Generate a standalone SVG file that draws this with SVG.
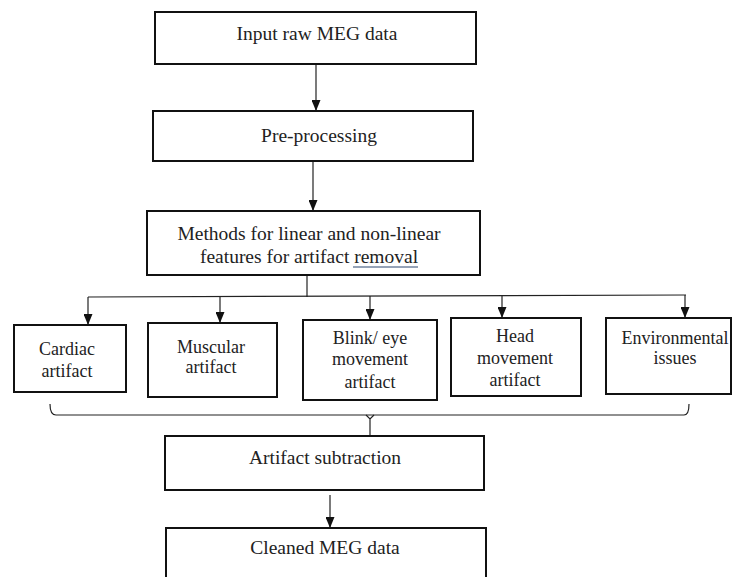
<svg xmlns="http://www.w3.org/2000/svg" width="734" height="577" viewBox="0 0 734 577">
<defs>
<style>
.box{fill:#fff;stroke:#111;stroke-width:2}
.t{font-family:'Liberation Serif','Times New Roman',serif;font-size:19.5px;fill:#222;text-anchor:middle}
.s{font-size:18px}
.c{fill:none;stroke:#222;stroke-width:1.2}
</style>
<marker id="a" markerUnits="userSpaceOnUse" markerWidth="11" markerHeight="9" refX="11" refY="4.5" orient="auto" viewBox="0 0 11 9">
<path d="M0,0 L11,4.5 L0,9 z" fill="#111"/>
</marker>
</defs>
<rect width="734" height="577" fill="#fff"/>
<g id="connectors">
<line class="c" x1="316" y1="64" x2="316" y2="111" marker-end="url(#a)"/>
<line class="c" x1="313" y1="161" x2="313" y2="211" marker-end="url(#a)"/>
<line class="c" x1="307" y1="275" x2="307" y2="297"/>
<line class="c" x1="88" y1="297" x2="686" y2="295"/>
<line class="c" x1="88" y1="297" x2="88" y2="325" marker-end="url(#a)"/>
<line class="c" x1="220" y1="297" x2="220" y2="323" marker-end="url(#a)"/>
<line class="c" x1="370" y1="296" x2="370" y2="320" marker-end="url(#a)"/>
<line class="c" x1="502" y1="296" x2="502" y2="318" marker-end="url(#a)"/>
<line class="c" x1="685" y1="295" x2="685" y2="318" marker-end="url(#a)"/>
<path class="c" d="M50,404 Q50,415 56,415 L684,415 Q689,415 689,404"/>
<path class="c" d="M366,415 L370,419 L374,415 M370,419 L370,436"/>
<line class="c" x1="330" y1="495" x2="330" y2="528" marker-end="url(#a)"/>
</g>
<g id="n1">
<rect class="box" x="155" y="12" width="321" height="52"/>
<text class="t" x="317" y="39.5">Input raw MEG data</text>
</g>
<g id="n2">
<rect class="box" x="153" y="111" width="320" height="50"/>
<text class="t" x="319" y="142">Pre-processing</text>
</g>
<g id="n3">
<rect class="box" x="147" y="211" width="333" height="64"/>
<text class="t" x="309" y="239.5">Methods for linear and non-linear</text>
<text class="t" x="309" y="263">features for artifact removal</text>
<line x1="353" y1="267" x2="418" y2="267" stroke="#2b4770" stroke-width="1"/>
</g>
<g id="n4">
<rect class="box" x="14" y="325" width="112" height="67"/>
<text class="t s" x="67" y="355">Cardiac</text>
<text class="t s" x="67" y="377">artifact</text>
</g>
<g id="n5">
<rect class="box" x="148" y="323" width="129" height="74"/>
<text class="t s" x="211" y="353">Muscular</text>
<text class="t s" x="211" y="373">artifact</text>
</g>
<g id="n6">
<rect class="box" x="303" y="320" width="134" height="80"/>
<text class="t s" x="370" y="344">Blink/ eye</text>
<text class="t s" x="370" y="365">movement</text>
<text class="t s" x="370" y="388">artifact</text>
</g>
<g id="n7">
<rect class="box" x="451" y="318" width="130" height="78"/>
<text class="t s" x="515" y="342">Head</text>
<text class="t s" x="515" y="364">movement</text>
<text class="t s" x="515" y="386">artifact</text>
</g>
<g id="n8">
<rect class="box" x="606" y="318" width="125" height="76"/>
<text class="t s" x="675" y="344">Environmental</text>
<text class="t s" x="675" y="364">issues</text>
</g>
<g id="n9">
<rect class="box" x="165" y="436" width="319" height="54"/>
<text class="t" x="325" y="464">Artifact subtraction</text>
</g>
<g id="n10">
<rect class="box" x="166" y="528" width="320" height="60"/>
<text class="t" x="325" y="554">Cleaned MEG data</text>
</g>
</svg>
